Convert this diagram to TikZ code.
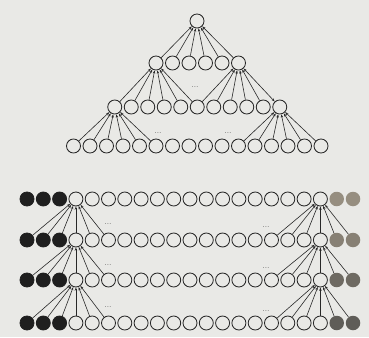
\documentclass[tikz,border=0pt]{standalone}
\usetikzlibrary{arrows.meta}
\definecolor{paper}{RGB}{233,233,230}
\definecolor{ink}{RGB}{40,40,40}
\definecolor{g1}{RGB}{150,142,128}
\definecolor{g2}{RGB}{135,128,116}
\definecolor{g3}{RGB}{110,106,98}
\definecolor{g4}{RGB}{95,93,88}
\begin{document}
\begin{tikzpicture}[x=1pt,y=-1pt,
  unit/.style={circle,draw=ink,line width=0.85pt,minimum size=14pt,inner sep=0pt},
  bunit/.style={unit,fill=black!88,draw=black!88},
  gunit/.style={circle,minimum size=14.5pt,inner sep=0pt},
  link/.style={line width=0.6pt,draw=ink,-{Stealth[length=3.4pt,width=2.4pt]}},
  blink/.style={line width=0.6pt,draw=ink,{Stealth[length=3.4pt,width=2.4pt]}-{Stealth[length=3.4pt,width=2.4pt]}},
  dotsl/.style={font=\footnotesize,inner sep=0pt,text=ink}]
\fill[paper] (0,0) rectangle (369,337);
\useasboundingbox (0,0) rectangle (369,337);
% ---------- top tree ----------
\foreach \k in {0,...,15} \node[unit] (a\k) at ({73.5+16.5*\k},146) {};
\foreach \k in {0,...,10} \node[unit] (b\k) at ({114.75+16.5*\k},107) {};
\foreach \k in {0,...,5} \node[unit] (c\k) at ({156+16.5*\k},63) {};
\node[unit] (root) at (197,21) {};
\foreach \k in {0,...,5} \draw[link] (c\k) -- (root);
\foreach \k in {0,...,5} \draw[link] (b\k) -- (c0);
\foreach \k in {5,...,9} \draw[link] (b\k) -- (c5);
\draw[blink] (b10) -- (c5);
\foreach \k in {0,...,5} \draw[link] (a\k) -- (b0);
\foreach \k in {10,...,15} \draw[link] (a\k) -- (b10);
\node[dotsl] (d1) at (195,87) {...};
\node[dotsl] (d2) at (158,133) {...};
\node[dotsl] (d3) at (228,133) {...};
% ---------- bottom rows ----------
\foreach \r/\y in {1/199,2/240,3/280,4/323} {
  \foreach \i in {0,...,20} {
    \pgfmathsetmacro\xx{27+16.3*\i}
    \ifnum\i<3
      \node[bunit] (u\r-\i) at (\xx,\y) {};
    \else
      \ifnum\i>18
        \node[gunit,fill=g\r] (u\r-\i) at (\xx,\y) {};
      \else
        \node[unit] (u\r-\i) at (\xx,\y) {};
      \fi
    \fi
  }
}
\foreach \r/\rn in {1/2,2/3,3/4} {
  \foreach \i in {0,...,5} \draw[link] (u\rn-\i) -- (u\r-3);
  \foreach \i in {15,...,20} \draw[link] (u\rn-\i) -- (u\r-18);
}
\node[dotsl] (e1) at (108,224) {...};
\node[dotsl] (e2) at (266,227) {...};
\node[dotsl] (e3) at (108,265) {...};
\node[dotsl] (e4) at (266,268) {...};
\node[dotsl] (e5) at (108,307) {...};
\node[dotsl] (e6) at (266,311) {...};
\end{tikzpicture}
\end{document}
